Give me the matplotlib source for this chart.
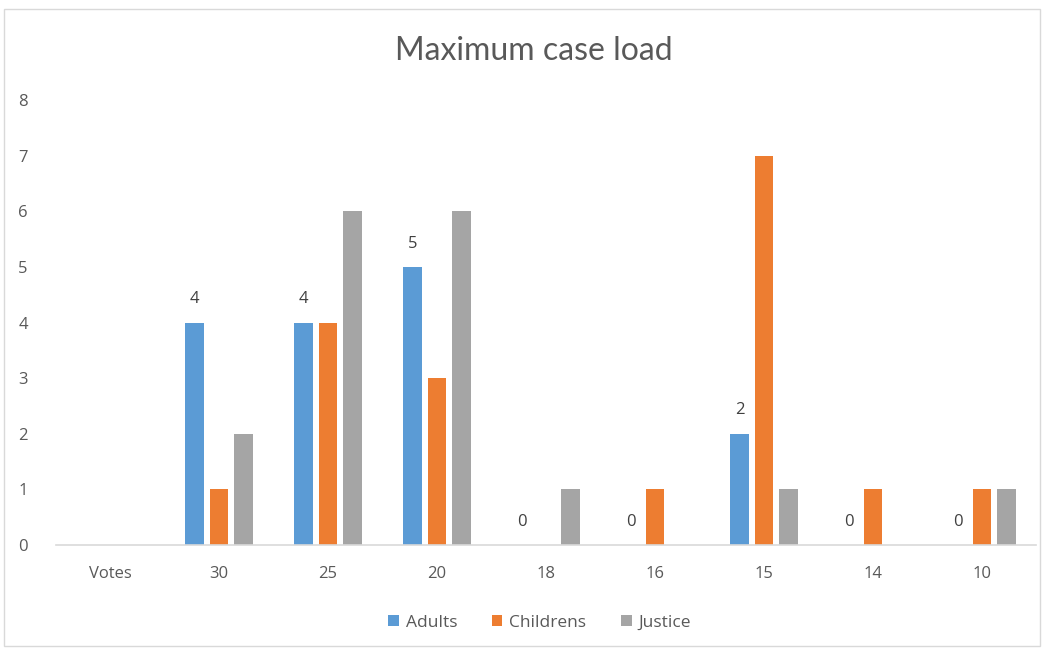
import numpy as np
import matplotlib.pyplot as plt
from matplotlib.patches import Rectangle

# Data
categories = ["Votes", "30", "25", "20", "18", "16", "15", "14", "10"]
adults = [np.nan, 4, 4, 5, 0, 0, 2, 0, 0]
childrens = [np.nan, 1, 4, 3, 0, 1, 7, 1, 1]
justice = [np.nan, 2, 6, 6, 1, 0, 1, 0, 1]

plt.rcParams['font.family'] = ['Open Sans', 'DejaVu Sans']

fig = plt.figure(figsize=(10.46, 6.51), dpi=100)
ax = fig.add_axes([0.0531, 0.1628, 0.9378, 0.6836])

# Chart border like Excel
fig.patches.append(Rectangle((0.004, 0.008), 0.99, 0.978, transform=fig.transFigure,
                             fill=False, edgecolor='#d9d9d9', linewidth=1))

x = np.arange(len(categories))
w = 0.172
step = 0.224
colors = ['#5b9bd5', '#ed7d31', '#a5a5a5']
names = ['Adults', 'Childrens', 'Justice']
series = [adults, childrens, justice]

for i, (vals, c, n) in enumerate(zip(series, colors, names)):
    ax.bar(x + (i - 1) * step, vals, width=w, color=c, label=n)

# Data labels on Adults only
for xi, v in zip(x, adults):
    if not np.isnan(v):
        ax.annotate(str(int(v)), (xi - step, v), xytext=(0, 11), textcoords='offset points',
                    ha='center', va='bottom', fontsize=12, color='#404040')

ax.set_xlim(-0.5, len(categories) - 0.5)
ax.set_ylim(0, 8)
ax.set_yticks(range(0, 9))
ax.set_xticks(x)
ax.set_xticklabels(categories)
ax.tick_params(axis='both', length=0, labelsize=12, labelcolor='#595959')
ax.tick_params(axis='x', pad=15)
ax.tick_params(axis='y', pad=20)
for s in ['top', 'right', 'left']:
    ax.spines[s].set_visible(False)
ax.spines['bottom'].set_color('#d9d9d9')
ax.spines['bottom'].set_linewidth(1.2)

fig.text(0.51, 0.922, "Maximum case load", family=['Lato', 'DejaVu Sans'],
         ha='center', va='center', fontsize=23, color='#595959')

fig.legend(loc='center', bbox_to_anchor=(0.516, 0.043), ncol=3, frameon=False,
           fontsize=12.5, labelcolor='#595959', handlelength=0.6, handleheight=0.6,
           handletextpad=0.4, columnspacing=2.0)

fig.savefig('out.png', dpi=100)
